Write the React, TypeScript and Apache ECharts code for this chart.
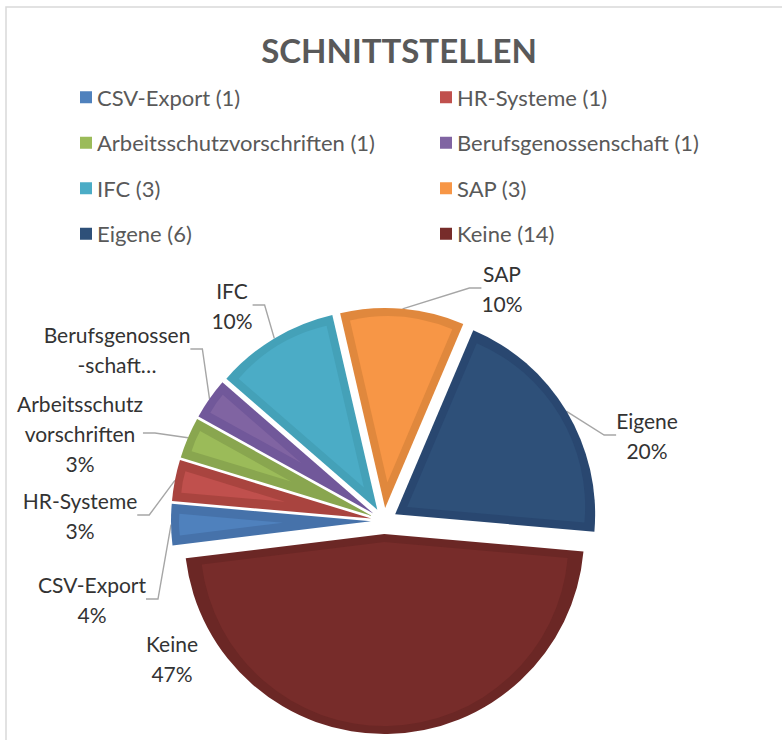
import React, { useEffect, useRef } from "react";
import * as echarts from "echarts";

// ---- data ----
const categories = [
  "CSV-Export",
  "HR-Systeme",
  "Arbeitsschutzvorschriften",
  "Berufsgenossenschaft",
  "IFC",
  "SAP",
  "Eigene",
  "Keine",
];
const counts = [1, 1, 1, 1, 3, 3, 6, 14];
const sliceLabels = [
  "CSV-Export",
  "HR-Systeme",
  "Arbeitsschutz\nvorschriften",
  "Berufsgenossen\n-schaft…",
  "IFC",
  "SAP",
  "Eigene",
  "Keine",
];
const showPercent = [true, true, true, false, true, true, true, true];
const legendLeftNames = ["CSV-Export", "Arbeitsschutzvorschriften", "IFC", "Eigene"];
const legendRightNames = ["HR-Systeme", "Berufsgenossenschaft", "SAP", "Keine"];

// ---- styles ----
const fillColors = ["#4F81BD", "#C0504D", "#9BBB59", "#8064A2", "#4BACC6", "#F79646", "#2E5079", "#772C2A"];
const bandColors = ["#4672AA", "#A9443F", "#89A64F", "#71589A", "#44A1B8", "#E0883D", "#294770", "#6B2725"];
const labelCenters: number[][] = [
  [92, 599],
  [80, 515],
  [80, 433],
  [117, 349],
  [232, 305],
  [502, 288],
  [647, 435],
  [172, 658],
];
// inner highlight groups (indices) and their extra offset
const innerGroups: number[][] = [[0, 1, 2, 3], [4, 5], [6], [7]];
const innerExtra = [88, 26, 14, 8];

const FONT = "Lato, 'Noto Sans', sans-serif";
const CENTER = [384, 521];
const R = 200;
const BAND = 8;
const EXPLODE = 13;
const START = 187;

export default function App() {
  const ref = useRef<HTMLDivElement>(null);
  useEffect(() => {
    if (!ref.current) return;
    const chart = echarts.init(ref.current, undefined, { renderer: "svg" });
    const idx = (n: string) => categories.indexOf(n);

    const mkLegend = (names: string[], left: number) => ({
      left,
      top: 80,
      orient: "vertical",
      icon: "rect",
      itemWidth: 12,
      itemHeight: 12,
      itemGap: 21,
      selectedMode: false,
      data: names.map((n) => ({ name: n, itemStyle: { color: fillColors[idx(n)] } })),
      formatter: (n: string) => `${n} (${counts[idx(n)]})`,
      textStyle: { fontSize: 22, lineHeight: 24.5, color: "#595959", fontFamily: FONT },
    });

    const mainSeries: any = {
      type: "pie",
      center: CENTER,
      radius: R,
      startAngle: START,
      clockwise: true,
      selectedMode: "multiple",
      selectedOffset: EXPLODE,
      silent: true,
      emphasis: { disabled: true },
      label: { show: false },
      labelLine: { show: false },
      data: categories.map((n, i) => ({
        name: n,
        value: counts[i],
        selected: true,
        itemStyle: { color: bandColors[i] },
      })),
    };

    const innerSeries = innerGroups.map((g, gi) => ({
      type: "pie",
      center: CENTER,
      radius: R - BAND - innerExtra[gi],
      startAngle: START,
      clockwise: true,
      selectedMode: "multiple",
      selectedOffset: EXPLODE + innerExtra[gi],
      silent: true,
      legendHoverLink: false,
      emphasis: { disabled: true },
      label: { show: false },
      labelLine: { show: false },
      data: categories.map((n, i) => ({
        name: n,
        value: counts[i],
        selected: g.includes(i),
        itemStyle: { color: g.includes(i) ? fillColors[i] : "rgba(0,0,0,0)" },
      })),
    }));

    // label carrier: same slices (not exploded), reaching the exploded outer arc
    const labelSeries: any = {
      type: "pie",
      center: CENTER,
      radius: R + EXPLODE,
      startAngle: START,
      clockwise: true,
      percentPrecision: 0,
      silent: true,
      legendHoverLink: false,
      avoidLabelOverlap: false,
      emphasis: { disabled: true },
      itemStyle: { color: "rgba(0,0,0,0)" },
      data: categories.map((n, i) => ({
        name: n,
        value: counts[i],
        labelLine: { show: i !== 7 },
      })),
      label: {
        show: true,
        position: "outside",
        color: "#333333",
        fontSize: 21,
        lineHeight: 30,
        fontFamily: FONT,
        align: "center",
        formatter: (p: any) =>
          sliceLabels[p.dataIndex] + (showPercent[p.dataIndex] ? "\n" + p.percent + "%" : ""),
      },
      labelLine: {
        show: true,
        length: 10,
        length2: 12,
        smooth: false,
        lineStyle: { color: "#A6A6A6", width: 1.4 },
      },
      labelLayout: (params: any) => {
        const c = labelCenters[params.dataIndex];
        return { x: c[0], y: c[1], align: "center", verticalAlign: "middle" };
      },
    };

    chart.setOption({
      animation: false,
      title: {
        text: "SCHNITTSTELLEN",
        left: "center",
        top: 28,
        textStyle: { fontSize: 33, fontWeight: "bold", color: "#595959", fontFamily: FONT },
      },
      legend: [mkLegend(legendLeftNames, 75), mkLegend(legendRightNames, 435)],
      graphic: [
        {
          type: "rect",
          shape: { x: 6, y: 7, width: 786, height: 800 },
          style: { fill: "none", stroke: "#D9D9D9", lineWidth: 1.5 },
          silent: true,
        },
      ],
      series: [mainSeries, ...innerSeries, labelSeries],
    });
    return () => chart.dispose();
  }, []);
  return (
    <div style={{ position: "fixed", left: 0, top: 0, width: 782, height: 740, overflow: "hidden", background: "#fff" }}>
      <div ref={ref} style={{ width: 798, height: 760 }} />
    </div>
  );
}
